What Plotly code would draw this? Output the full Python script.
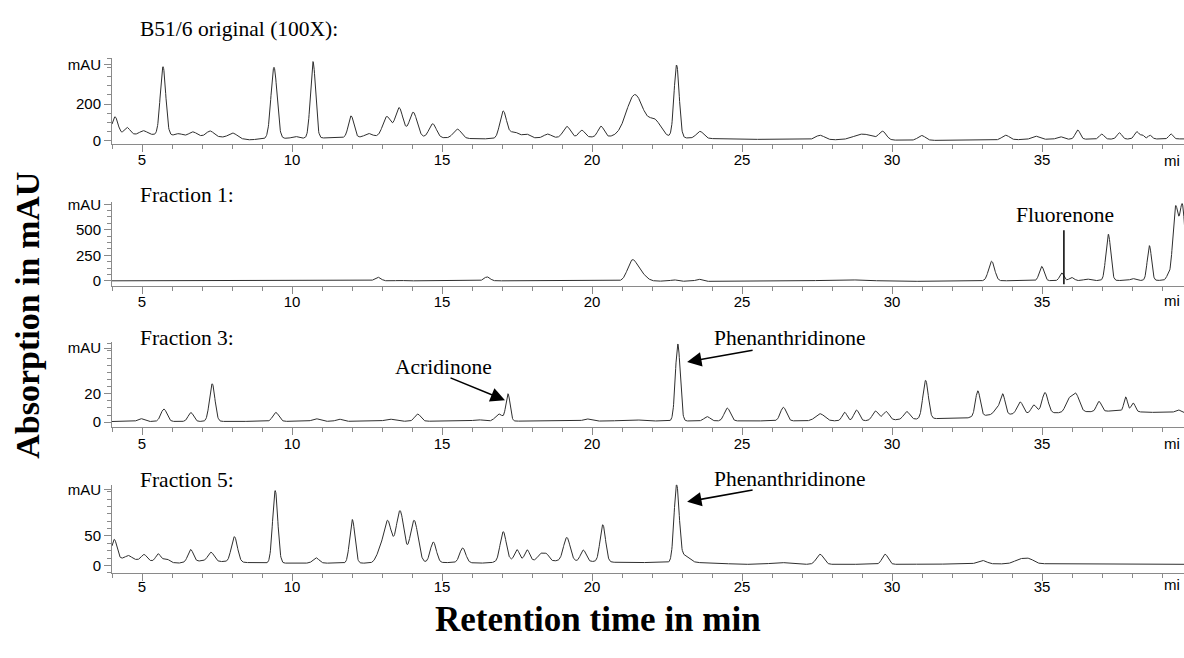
import numpy as np
import plotly.graph_objects as go

# ---------------- data ----------------
# Each panel: baseline points (time, mAU) + peak table (retention time, height above baseline, sigma in min)

# Panel 1: B51/6 original (100X)
p1_base_t = [4, 5, 6, 7.5, 8.6, 9.2, 11, 12.4, 13, 16.3, 18, 20.8, 22.5, 23.3, 25, 31.5, 33, 35, 39.75]
p1_base_v = [30, 35, 30, 22, 5, 12, 15, 20, 25, 10, 15, 22, 20, 14, 8, 2, 3, 8, 10]
p1_rt = [4.1, 4.5, 5.05, 5.7, 6.23, 6.7, 7.27, 8.03, 9.4, 10.1, 10.7, 11.97, 12.55, 13.16, 13.57, 14.04,
         14.69, 15.51, 17.04, 17.4, 17.8, 18.52, 19.16, 19.66, 20.3, 21.43, 22.1, 22.82, 23.6, 27.6, 29.03,
         29.69, 30.99, 33.79, 34.77, 35.6, 36.19, 36.99, 37.58, 38.16, 38.35, 38.6, 39.3]
p1_h = [100, 40, 20, 372, 10, 22, 30, 28, 388, 10, 417, 117, 18, 107, 157, 135,
        75, 50, 148, 35, 22, 20, 60, 38, 58, 230, 85, 395, 38, 24, 32,
        45, 26, 25, 18, 14, 50, 27, 34, 40, 20, 20, 27]
p1_w = [0.1, 0.1, 0.12, 0.09, 0.1, 0.12, 0.12, 0.14, 0.1, 0.1, 0.085, 0.09, 0.12, 0.13, 0.13, 0.13,
        0.12, 0.13, 0.11, 0.15, 0.12, 0.12, 0.12, 0.1, 0.1, 0.28, 0.2, 0.085, 0.12, 0.15, 0.3,
        0.12, 0.12, 0.12, 0.12, 0.1, 0.08, 0.08, 0.08, 0.08, 0.06, 0.07, 0.07]

# Panel 2: Fraction 1
p2_base_t = [4, 20, 24, 31, 33, 39.75]
p2_base_v = [0, 0, -5, -5, 0, 5]
p2_rt = [12.86, 13.6, 16.5, 21.33, 21.6, 22.73, 23.56, 25.85, 28.4, 33.32, 34.99, 35.66, 35.99, 36.5,
         37.21, 38.03, 38.58, 39.2, 39.45, 39.68]
p2_h = [35, 5, 38, 180, 80, 13, 20, 5, 15, 191, 139, 75, 30, 15,
        453, 18, 340, 45, 700, 720]
p2_w = [0.1, 0.1, 0.1, 0.15, 0.18, 0.1, 0.1, 0.15, 0.8, 0.1, 0.08, 0.07, 0.08, 0.1,
        0.08, 0.08, 0.07, 0.06, 0.09, 0.09]

# Panel 3: Fraction 3
p3_base_t = [4, 29, 31.3, 32.5, 33.2, 37.5, 38.5, 39.75]
p3_base_v = [0.5, 1.0, 2.5, 3, 5, 8, 7, 6.5]
p3_rt = [4.96, 5.73, 6.63, 7.34, 9.46, 10.8, 11.57, 13.25, 14.19, 16.2, 16.9, 17.2, 19.83, 21.3,
         22.86, 23.84, 24.51, 26.38, 27.6, 28.42, 28.82, 29.45, 29.8, 30.49, 31.12, 32.86, 33.5,
         33.69, 34.27, 34.73, 35.1, 35.88, 36.12, 36.9, 37.79, 38.04, 39.54]
p3_h = [2, 8.7, 6.2, 26.4, 6.2, 1.8, 1.5, 1.5, 5.0, 1, 5, 19, 1.5, 1,
        54, 3, 9, 9.5, 5, 6, 7.5, 6.5, 6, 5.5, 27, 18, 4,
        14, 8.5, 6, 14.5, 8, 13, 7, 10, 6, 2]
p3_w = [0.1, 0.1, 0.09, 0.09, 0.1, 0.12, 0.1, 0.15, 0.1, 0.15, 0.12, 0.07, 0.12, 0.3,
        0.08, 0.1, 0.1, 0.1, 0.15, 0.08, 0.09, 0.1, 0.1, 0.1, 0.09, 0.08, 0.1,
        0.08, 0.1, 0.09, 0.1, 0.1, 0.12, 0.08, 0.06, 0.07, 0.1]

# Panel 4: Fraction 5
p4_base_t = [4, 4.3, 5, 6.2, 7, 8.5, 9, 11.5, 12.5, 15.3, 16.5, 17.3, 18.6, 19.9, 21, 23.5, 25, 26.9, 30, 35, 39.75]
p4_base_v = [15, 12, 9, 4, 8, 5, 4, 4, 4, 5, 4, 9, 8, 7, 5, 5, 2, 2, 2, 3, 2]
p4_rt = [4.08, 4.55, 5.07, 5.54, 5.8, 6.62, 7.3, 8.08, 9.44, 10.8, 12.01, 12.93, 13.19, 13.6, 14.07,
         14.71, 15.69, 17.04, 17.5, 17.84, 18.3, 18.49, 19.16, 19.71, 20.36, 22.82, 23.1, 26.27,
         27.6, 29.77, 33.0, 34.3, 34.6]
p4_h = [30, 6, 10, 13, 6, 21, 15, 43, 123, 9, 74, 18, 70, 88, 72,
        35, 25, 50, 18, 18, 12, 10, 40, 19, 63, 130, 12, 3,
        17, 17, 6, 8, 6]
p4_w = [0.08, 0.1, 0.09, 0.08, 0.1, 0.09, 0.1, 0.1, 0.085, 0.1, 0.085, 0.12, 0.13, 0.13, 0.13,
        0.1, 0.1, 0.1, 0.08, 0.08, 0.1, 0.08, 0.11, 0.09, 0.09, 0.085, 0.15, 0.3,
        0.12, 0.1, 0.15, 0.2, 0.15]

panel_titles = ["B51/6 original (100X):", "Fraction 1:", "Fraction 3:", "Fraction 5:"]
x_tick_vals = [5, 10, 15, 20, 25, 30, 35]
y_tick_vals = [[0, 200, 413], [0, 250, 500, 745], [0, 20, 52], [0, 50, 129]]
y_tick_text = [["0", "200", "mAU"], ["0", "250", "500", "mAU"], ["0", "20", "mAU"], ["0", "50", "mAU"]]
y_minor = [50, 62.5, 5, 12.5]

# ---------------- build curves ----------------
t = np.arange(4.0, 39.76, 0.01)


def chromatogram(bt, bv, rt, h, w):
    y = np.interp(t, bt, bv)
    for r, a, s in zip(rt, h, w):
        y = y + a * np.exp(-0.5 * ((t - r) / s) ** 2)
    return y


curves = [
    chromatogram(p1_base_t, p1_base_v, p1_rt, p1_h, p1_w),
    chromatogram(p2_base_t, p2_base_v, p2_rt, p2_h, p2_w),
    chromatogram(p3_base_t, p3_base_v, p3_rt, p3_h, p3_w),
    chromatogram(p4_base_t, p4_base_v, p4_rt, p4_h, p4_w),
]

W, H = 1184, 658
SERIF = "Liberation Serif"
SANS = "Liberation Sans"

# pixel layout of each panel (top, bottom) and y range
panel_px = [(53, 140), (199, 285), (342, 428.3), (487, 576.7)]
y_ranges = [[-16, 450.4], [-52.9, 774], [-3.45, 56.07], [-12.83, 136.7]]
x_range = [4, 4 + (W - 112) / 30]
label_shift = [-5, -5, -4, -7]
label_y = [157, 300, 445, 588]

fig = go.Figure()
layout = dict(
    width=W, height=H, margin=dict(l=0, r=0, t=0, b=0),
    paper_bgcolor="white", plot_bgcolor="white", showlegend=False,
)

axis_color = "#8a8a8a"
for i in range(4):
    n = "" if i == 0 else str(i + 1)
    top, bot = panel_px[i]
    fig.add_trace(go.Scatter(x=t, y=curves[i], mode="lines",
                             line=dict(color="#2e2e2e", width=1),
                             xaxis="x" + n, yaxis="y" + n, hoverinfo="skip"))
    layout["xaxis" + n] = dict(
        domain=[112 / W, 1], range=x_range, anchor="y" + n,
        tickmode="array", tickvals=x_tick_vals, ticks="outside", ticklen=7,
        ticklabelstandoff=label_shift[i],
        tickcolor=axis_color, showline=True, linecolor=axis_color, linewidth=1,
        showgrid=False, zeroline=False,
        tickfont=dict(family=SANS, size=15, color="black"),
        minor=dict(dtick=1, tick0=0, ticks="outside", ticklen=4, tickcolor=axis_color, showgrid=False),
    )
    layout["yaxis" + n] = dict(
        domain=[1 - bot / H, 1 - top / H], range=y_ranges[i], anchor="x" + n,
        tickmode="array", tickvals=y_tick_vals[i], ticktext=y_tick_text[i],
        ticks="outside", ticklen=7, tickcolor=axis_color,
        showline=True, linecolor=axis_color, linewidth=1,
        showgrid=False, zeroline=False,
        tickfont=dict(family=SANS, size=15, color="black"),
        minor=dict(dtick=y_minor[i], tick0=0, ticks="outside", ticklen=4, tickcolor=axis_color, showgrid=False),
    )

fig.update_layout(**layout)

annotations = []
title_y = [23, 192, 338, 482]
for i in range(4):
    annotations.append(dict(text=panel_titles[i], xref="paper", yref="paper",
                            x=138 / W, y=1 - title_y[i] / H, xanchor="left", yanchor="middle",
                            showarrow=False, font=dict(family=SERIF, size=21.5, color="black")))
    # truncated "min" unit label at right end of each x axis
    annotations.append(dict(text="mi", xref="paper", yref="paper",
                            x=1172 / W, y=1 - label_y[i] / H, xanchor="center", yanchor="middle",
                            showarrow=False, font=dict(family=SANS, size=15, color="black")))

# compound labels
annotations += [
    dict(text="Fluorenone", xref="paper", yref="paper", x=1065 / W, y=1 - 213 / H,
         xanchor="center", yanchor="middle", showarrow=False, font=dict(family=SERIF, size=21.5, color="black")),
    dict(text="Acridinone", xref="paper", yref="paper", x=443 / W, y=1 - 367 / H,
         xanchor="center", yanchor="middle", showarrow=False, font=dict(family=SERIF, size=21.5, color="black")),
    dict(text="Phenanthridinone", xref="paper", yref="paper", x=712 / W, y=1 - 338 / H,
         xanchor="left", yanchor="middle", showarrow=False, font=dict(family=SERIF, size=21.5, color="black")),
    dict(text="Phenanthridinone", xref="paper", yref="paper", x=712 / W, y=1 - 481 / H,
         xanchor="left", yanchor="middle", showarrow=False, font=dict(family=SERIF, size=21.5, color="black")),
    # arrows
    dict(text="", xref="x3", yref="y3", x=17.1, y=15.4, ax=-56, ay=-23, showarrow=True,
         arrowhead=2, arrowsize=1.8, arrowwidth=1.6, arrowcolor="black"),
    dict(text="", xref="x3", yref="y3", x=23.17, y=42.3, ax=67, ay=-12, showarrow=True,
         arrowhead=2, arrowsize=1.8, arrowwidth=1.6, arrowcolor="black"),
    dict(text="", xref="x4", yref="y4", x=23.17, y=108, ax=67, ay=-12, showarrow=True,
         arrowhead=2, arrowsize=1.8, arrowwidth=1.6, arrowcolor="black"),
    # global axis titles
    dict(text="<b>Absorption in mAU</b>", xref="paper", yref="paper", x=28 / W, y=1 - 315 / H,
         xanchor="center", yanchor="middle", textangle=-90, showarrow=False,
         font=dict(family=SERIF, size=34, color="black")),
    dict(text="<b>Retention time in min</b>", xref="paper", yref="paper", x=598 / W, y=1 - 624 / H,
         xanchor="center", yanchor="middle", showarrow=False,
         font=dict(family=SERIF, size=35, color="black")),
]
fig.update_layout(annotations=annotations)

# Fluorenone marker line in Fraction 1 panel
fig.add_shape(type="line", xref="x2", yref="y2", x0=35.73, x1=35.73, y0=-34, y1=495,
              line=dict(color="black", width=1.5))

fig.write_html("out.html")
